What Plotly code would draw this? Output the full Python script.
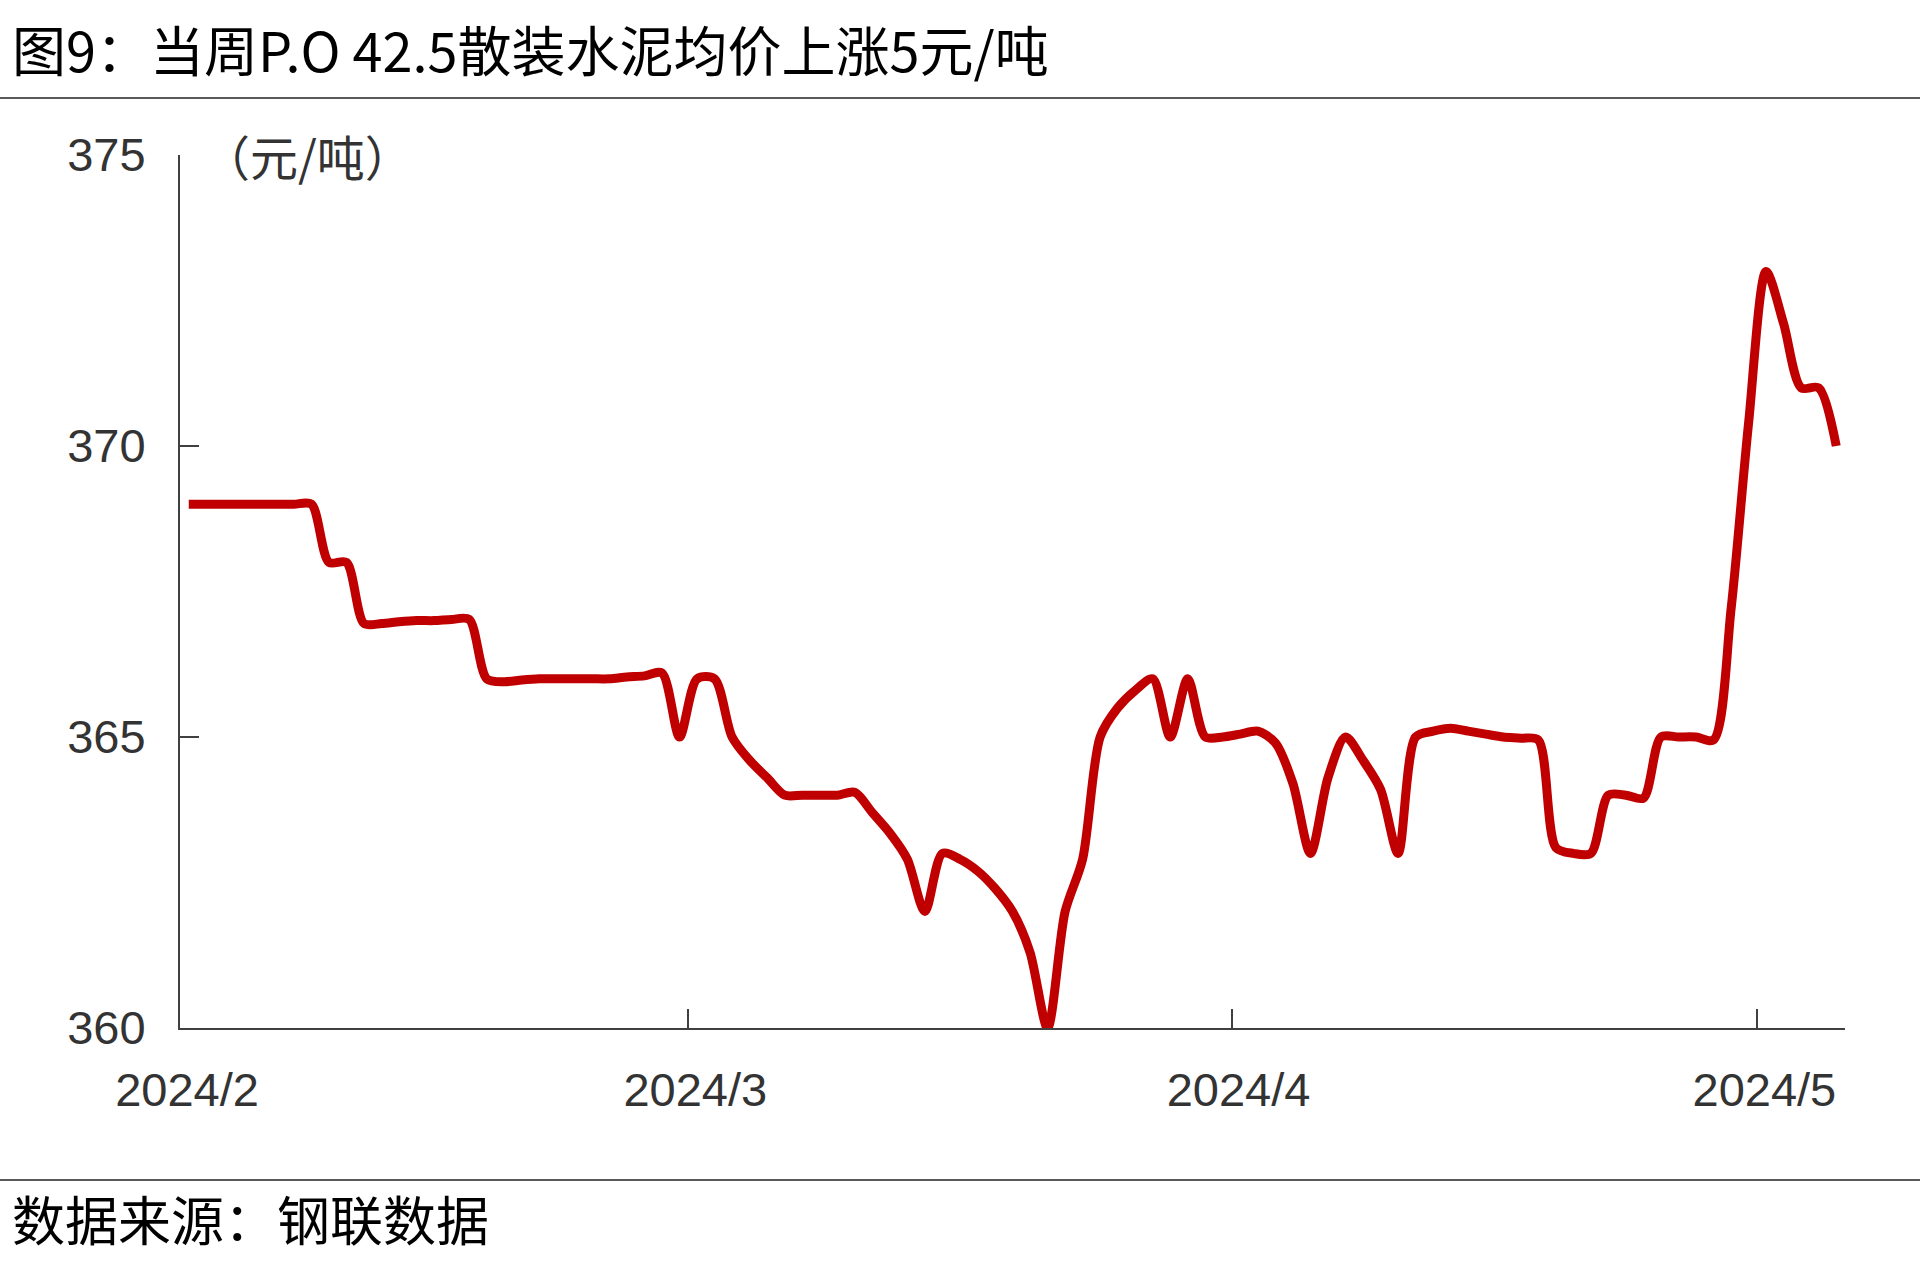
import pandas as pd
import plotly.graph_objects as go

# ---------------- data ----------------
start_date = "2024-02-01"
price = [
    369, 369, 369, 369, 369, 369, 369, 369,            # Feb 1-8
    368, 368,                                          # Feb 9-10
    366.95, 366.95, 366.98, 367, 367, 367.02, 367.02,  # Feb 11-17
    366, 365.95, 365.98, 366, 366, 366, 366, 366, 366.03, 366.05, 366.1,  # Feb 18-28
    365,                                               # Feb 29
    366, 366, 365, 364.6, 364.3, 364, 364, 364, 364, 364.05,    # Mar 1-10
    363.7, 363.35, 362.9, 362, 363, 362.9, 362.7, 362.4, 362, 361.3,  # Mar 11-20
    360, 362, 362.9, 365, 365.5, 365.8, 366, 365, 366, 365, 365,  # Mar 21-31
    365.05, 365.1, 364.9, 364.2, 363, 364.3, 365, 364.6, 364.1, 363,  # Apr 1-10
    365, 365.1, 365.15, 365.1, 365.05, 365, 364.98, 364.95, 363.1, 363,  # Apr 11-20
    363, 364, 364, 363.95, 365, 365, 365, 364.95, 367.2, 370.4,  # Apr 21-30
    373, 372.1, 371, 371, 370,                          # May 1-5
]
tick_dates = ["2024-02-01", "2024-03-01", "2024-04-01", "2024-05-01"]
tick_labels = ["2024/2", "2024/3", "2024/4", "2024/5"]
x_range = ["2024-02-01", "2024-05-06"]
y_ticks = [360, 365, 370, 375]
y_range = [360, 375]

title_text = "图9：当周P.O 42.5散装水泥均价上涨5元/吨"
unit_text = "（元/吨）"
source_text = "数据来源：钢联数据"

# ---------------- figure ----------------
W, H = 1920, 1279
L, R, T, B = 180, 75, 155, 251
pw, ph = W - L - R, H - T - B

def px_x(p):
    return (p - L) / pw

def px_y(p):
    return (H - B - p) / ph

dates = pd.date_range(start_date, periods=len(price), freq="D") + pd.Timedelta(hours=12)

fig = go.Figure(
    go.Scatter(
        x=dates, y=price, mode="lines",
        line=dict(color="#C00000", width=9, shape="spline", smoothing=0.8),
        hoverinfo="skip",
    )
)

axis_col = "#404040"
tick_font = dict(family="Liberation Sans, Arial, sans-serif", size=47, color="#333333")
cjk = "Noto Sans CJK SC, sans-serif"

fig.update_layout(
    width=W, height=H,
    margin=dict(l=L, r=R, t=T, b=B, pad=0),
    paper_bgcolor="white", plot_bgcolor="white",
    showlegend=False,
    title=dict(
        text=title_text, x=12 / W, xanchor="left", xref="container",
        y=1 - 53 / H, yanchor="middle", yref="container",
        font=dict(family=cjk, size=54, color="#000000"),
    ),
    xaxis=dict(
        type="date", range=x_range, tickvals=tick_dates, ticktext=tick_labels,
        ticks="inside", ticklen=19, tickwidth=1.5, tickcolor=axis_col,
        showline=True, linecolor=axis_col, linewidth=2,
        showgrid=False, zeroline=False, tickfont=tick_font,
        ticklabelstandoff=20, ticklabelshift=7,
    ),
    yaxis=dict(
        range=y_range, tickvals=y_ticks,
        ticks="inside", ticklen=19, tickwidth=1.5, tickcolor=axis_col,
        showline=True, linecolor=axis_col, linewidth=2,
        showgrid=False, zeroline=False, tickfont=tick_font,
        ticklabelstandoff=23,
    ),
    shapes=[
        dict(type="line", xref="paper", yref="paper", x0=px_x(0), x1=px_x(W),
             y0=px_y(98), y1=px_y(98), line=dict(color="#595959", width=2)),
        dict(type="line", xref="paper", yref="paper", x0=px_x(0), x1=px_x(W),
             y0=px_y(1180), y1=px_y(1180), line=dict(color="#595959", width=2)),
    ],
    annotations=[
        dict(text=unit_text, xref="paper", yref="paper", x=px_x(200), y=px_y(155),
             xanchor="left", yanchor="middle", showarrow=False,
             font=dict(family=cjk, size=48, color="#333333")),
        dict(text=source_text, xref="paper", yref="paper", x=px_x(10), y=px_y(1218),
             xanchor="left", yanchor="middle", showarrow=False,
             font=dict(family=cjk, size=53, color="#000000")),
    ],
)

fig.write_html(
    "out.html",
    config={"displayModeBar": False},
    post_script="document.body.style.margin='0';document.body.style.overflow='hidden';",
)
